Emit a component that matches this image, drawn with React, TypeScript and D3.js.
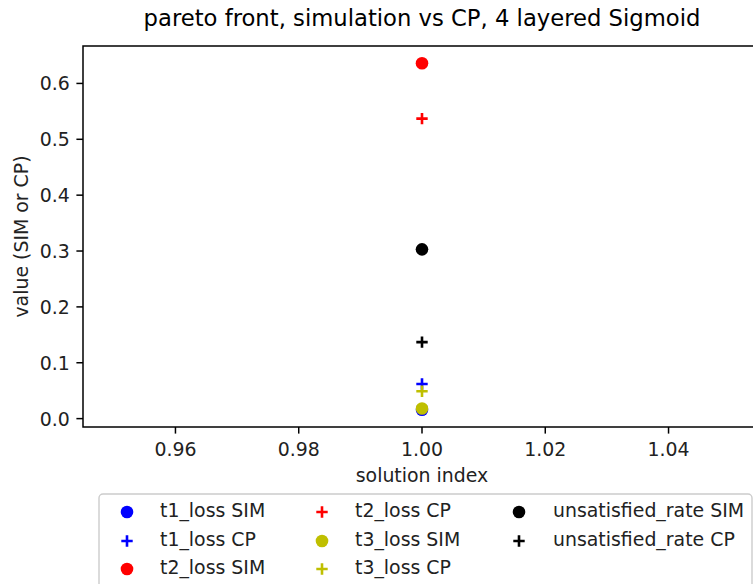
import React from 'react';
import * as d3 from 'd3';

// solution index (x) and the objective values
const solutionIndex = [1];
const t1LossSim = [0.016];
const t1LossCp = [0.062];
const t2LossSim = [0.636];
const t2LossCp = [0.537];
const t3LossSim = [0.018];
const t3LossCp = [0.049];
const unsatisfiedSim = [0.303];
const unsatisfiedCp = [0.137];

const xTicks = [0.96, 0.98, 1.0, 1.02, 1.04];
const yTicks = [0.0, 0.1, 0.2, 0.3, 0.4, 0.5, 0.6];

const seriesNames = [
  't1_loss SIM', 't1_loss CP', 't2_loss SIM', 't2_loss CP',
  't3_loss SIM', 't3_loss CP', 'unsatisfied_rate SIM', 'unsatisfied_rate CP',
];
const seriesValues = [t1LossSim, t1LossCp, t2LossSim, t2LossCp, t3LossSim, t3LossCp, unsatisfiedSim, unsatisfiedCp];
const seriesColors = ['#0000ff', '#0000ff', '#ff0000', '#ff0000', '#bfbf00', '#bfbf00', '#000000', '#000000'];
const seriesMarkers = ['o', '+', 'o', '+', 'o', '+', 'o', '+'];

const W = 753, H = 584;
const margin = { left: 83, top: 46, right: 761, bottom: 427 };
const font = 'DejaVu Sans, sans-serif';
const fs = 18.9;   // 10pt at this figure's dpi
const tick = 6.6;

const Marker = ({ kind, x, y, color }: { kind: string; x: number; y: number; color: string }) => {
  if (kind === 'o') return <circle cx={x} cy={y} r={6.3} fill={color} />;
  const s = 5.7;
  return (
    <path d={`M${x - s},${y}H${x + s}M${x},${y - s}V${y + s}`} stroke={color} strokeWidth={2.6} fill="none" />
  );
};

export default function App() {
  // matplotlib-like limits: singular x expanded by 5%, then 5% margins
  const x0 = d3.min(solutionIndex)! * 0.95, x1 = d3.max(solutionIndex)! * 1.05;
  const xPad = (x1 - x0) * 0.05;
  const x = d3.scaleLinear().domain([x0 - xPad, x1 + xPad]).range([margin.left, margin.right]);

  const all = seriesValues.flat();
  const [lo, hi] = d3.extent(all) as [number, number];
  const yPad = (hi - lo) * 0.05;
  const y = d3.scaleLinear().domain([lo - yPad, hi + yPad]).range([margin.bottom, margin.top]);

  const cx = (margin.left + margin.right) / 2;
  const cy = (margin.top + margin.bottom) / 2;

  const legCols = [127, 322, 519];
  const legText = [160, 355, 553];
  const legRows = [512, 541, 569];

  return (
    <svg width={W} height={H} style={{ position: 'absolute', left: 0, top: 0, background: '#fff' }} fontFamily={font}>
      <rect width={W} height={H} fill="#fff" />
      <text x={cx} y={18} textAnchor="middle" dominantBaseline="central" fontSize={22.7} fill="#000">
        pareto front, simulation vs CP, 4 layered Sigmoid
      </text>

      {/* points, drawn in plotting order */}
      {seriesValues.map((vals, i) =>
        vals.map((v, j) => (
          <Marker key={`${i}-${j}`} kind={seriesMarkers[i]} x={x(solutionIndex[j])} y={y(v)} color={seriesColors[i]} />
        ))
      )}

      {/* spines */}
      <rect x={margin.left} y={margin.top} width={margin.right - margin.left} height={margin.bottom - margin.top}
        fill="none" stroke="#000" strokeWidth={1.5} />

      {/* x axis */}
      {xTicks.map(t => (
        <g key={t}>
          <line x1={x(t)} x2={x(t)} y1={margin.bottom} y2={margin.bottom + tick} stroke="#000" strokeWidth={1.5} />
          <text x={x(t)} y={margin.bottom + 22} textAnchor="middle" dominantBaseline="central" fontSize={fs} fill="#222">
            {t.toFixed(2)}
          </text>
        </g>
      ))}
      <text x={cx} y={475} textAnchor="middle" dominantBaseline="central" fontSize={fs} fill="#222">solution index</text>

      {/* y axis */}
      {yTicks.map(t => (
        <g key={t}>
          <line x1={margin.left - tick} x2={margin.left} y1={y(t)} y2={y(t)} stroke="#000" strokeWidth={1.5} />
          <text x={margin.left - 2 * tick} y={y(t)} textAnchor="end" dominantBaseline="central" fontSize={fs} fill="#222">
            {t.toFixed(1)}
          </text>
        </g>
      ))}
      <text transform={`translate(21,${cy}) rotate(-90)`} textAnchor="middle" dominantBaseline="central" fontSize={fs} fill="#222">
        value (SIM or CP)
      </text>

      {/* legend */}
      <rect x={99} y={494} width={653} height={110} rx={4} fill="#fff" fillOpacity={0.8} stroke="#cccccc" strokeWidth={1.4} />
      {seriesNames.map((name, i) => {
        const col = Math.floor(i / 3), row = i % 3;
        return (
          <g key={name}>
            <Marker kind={seriesMarkers[i]} x={legCols[col]} y={legRows[row]} color={seriesColors[i]} />
            <text x={legText[col]} y={legRows[row] - 2} dominantBaseline="central" fontSize={fs} fill="#222">{name}</text>
          </g>
        );
      })}
    </svg>
  );
}
